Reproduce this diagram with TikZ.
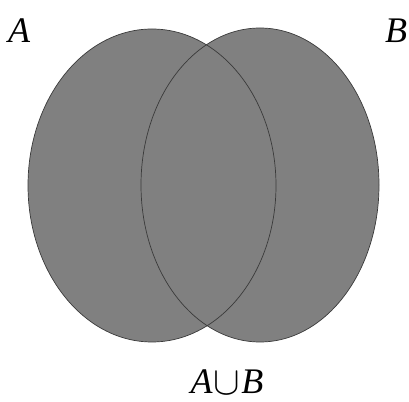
\documentclass[tikz,border=0pt]{standalone}
\usepackage{graphicx}
\usepackage{fontspec}
\setmainfont{Liberation Serif}
\usetikzlibrary{shapes.geometric}
\definecolor{setfill}{HTML}{808080}
\definecolor{setline}{HTML}{3A3A3A}
\tikzset{
  setlabel/.style={font=\fontsize{36}{40}\selectfont\itshape, inner sep=0pt},
}
\newcommand{\bigcupsym}{\scalebox{1.6}{$\cup$}}
\begin{document}
\begin{tikzpicture}[x=1pt,y=1pt]
\useasboundingbox (0,0) rectangle (409,401);
% fills
\fill[setfill] (152,215.5) ellipse [x radius=124, y radius=156.5];
\fill[setfill] (260,216) ellipse [x radius=119, y radius=157];
% outlines
\draw[setline, line width=0.7pt] (152,215.5) ellipse [x radius=124, y radius=156.5];
\draw[setline, line width=0.7pt] (260,216) ellipse [x radius=119, y radius=157];
% labels
\node[setlabel, anchor=base] (la) at (19,358) {A};
\node[setlabel, anchor=base] (lb) at (396,358) {B};
\node[setlabel, anchor=base] (lu) at (227,7) {A\kern1pt\bigcupsym\kern1ptB};
\end{tikzpicture}
\end{document}
